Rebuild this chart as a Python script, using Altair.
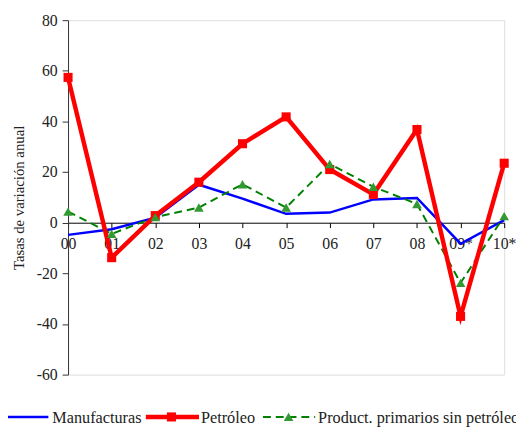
import altair as alt
import pandas as pd

years = ["00", "01", "02", "03", "04", "05", "06", "07", "08", "09*", "10*"]
manufacturas = [-4.8, -2.6, 2.0, 15.0, 9.5, 3.5, 4.0, 9.2, 9.8, -8.3, 1.0]
petroleo = [57.4, -13.8, 2.8, 16.0, 31.2, 41.8, 21.0, 11.2, 36.8, -37.0, 23.5]
primarios = [4.4, -4.4, 2.2, 6.0, 15.2, 6.0, 23.2, 14.2, 7.4, -23.8, 2.6]
series_names = ["Manufacturas", "Petróleo", "Product. primarios sin petróleo"]

FONT = "Liberation Serif"
TXT = "#222222"
W, H = 443, 360
YMIN, YMAX = -60, 80

def frame(vals):
    return pd.DataFrame({"year": years, "value": vals})

x_enc = alt.X(
    "year:O", sort=years, title=None,
    scale=alt.Scale(type="point", padding=0),
    axis=alt.Axis(
        offset=-H * (0 - YMIN) / (YMAX - YMIN), labelAngle=0, tickSize=5,
        labelPadding=8, domainColor="#000000", tickColor="#000000",
        labelFont=FONT, labelFontSize=16, labelColor=TXT, grid=False,
    ),
)
y_enc = alt.Y(
    "value:Q", title="Tasas de variación anual",
    scale=alt.Scale(domain=[YMIN, YMAX], nice=False, zero=False),
    axis=alt.Axis(
        values=list(range(YMIN, YMAX + 1, 20)), tickSize=6, labelPadding=5,
        labelExpr="'' + datum.value",
        domainColor="#333333", tickColor="#333333", grid=False,
        labelFont=FONT, labelFontSize=16, labelColor=TXT,
        titleFont=FONT, titleFontSize=15, titleFontWeight="normal",
        titleColor=TXT, titlePadding=10,
    ),
)

blue = alt.Chart(frame(manufacturas)).mark_line(color="#0000FF", strokeWidth=2.5).encode(x=x_enc, y=y_enc)
red_l = alt.Chart(frame(petroleo)).mark_line(color="#FF0000", strokeWidth=4.5).encode(x=x_enc, y=y_enc)
red_p = alt.Chart(frame(petroleo)).mark_point(shape="square", filled=True, color="#FF0000", opacity=1, size=85).encode(x=x_enc, y=y_enc)
green_l = alt.Chart(frame(primarios)).mark_line(color="#008000", strokeWidth=2, strokeDash=[8, 5]).encode(x=x_enc, y=y_enc)
green_p = alt.Chart(frame(primarios)).mark_point(shape="triangle-up", filled=True, color="#339933", opacity=1, size=95).encode(x=x_enc, y=y_enc)

# custom legend below the plot (pixel positions relative to plot origin)
one = alt.InlineData(values=[{"k": 1}])
LY = 403
def lrule(x1, x2, color, width, dash=None):
    kw = dict(color=color, strokeWidth=width)
    if dash:
        kw["strokeDash"] = dash
    return alt.Chart(one).mark_rule(**kw).encode(x=alt.value(x1), x2=alt.value(x2), y=alt.value(LY))

def ltext(x, s):
    return alt.Chart(one).mark_text(align="left", baseline="middle", font=FONT, fontSize=16.5, color=TXT, dy=1).encode(
        x=alt.value(x), y=alt.value(LY), text=alt.value(s))

legend = [
    lrule(-69, -20, "#0000FF", 2.5),
    ltext(-16, series_names[0]),
    lrule(79, 133, "#FF0000", 4.5),
    alt.Chart(one).mark_point(shape="square", filled=True, color="#FF0000", opacity=1, size=85).encode(x=alt.value(105), y=alt.value(LY)),
    ltext(135, series_names[1]),
    lrule(198, 251, "#008000", 2, [8, 5]),
    alt.Chart(one).mark_point(shape="triangle-up", filled=True, color="#339933", opacity=1, size=95).encode(x=alt.value(224), y=alt.value(LY)),
    ltext(254, series_names[2]),
]

chart = alt.layer(blue, green_l, red_l, red_p, green_p, *legend).properties(
    width=W, height=H,
    autosize=alt.AutoSizeParams(type="none"),
    padding={"left": 61, "top": 9, "right": 12, "bottom": 60},
).configure_view(stroke=None).configure(background="white", font=FONT)

chart.save("out.html", embed_options={"renderer": "svg", "actions": False})
